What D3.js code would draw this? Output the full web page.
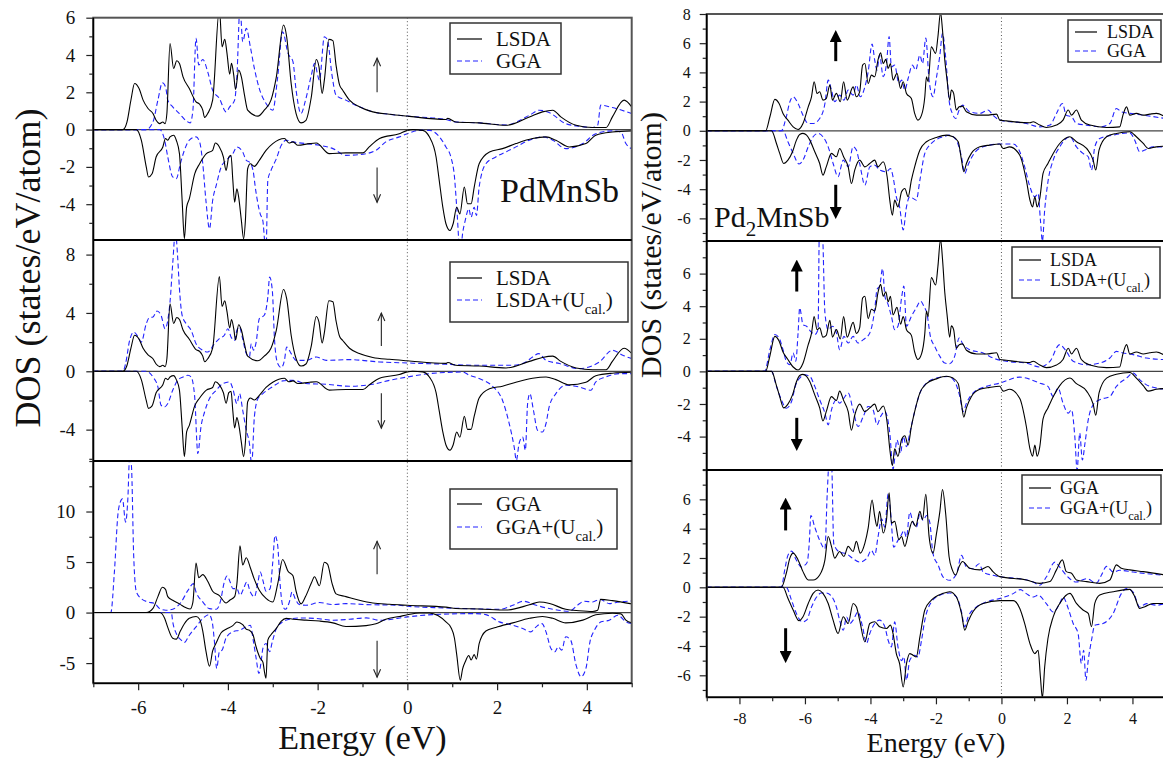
<!DOCTYPE html>
<html>
<head>
<meta charset="utf-8">
<script src="https://cdn.jsdelivr.net/npm/d3@7"></script>
<style>
  body { margin: 0; background: #fff; }
  text { font-family: "Liberation Serif", "Times New Roman", serif; fill: #111; }
</style>
</head>
<body>
<svg id="chart" width="1163" height="762"></svg>
<script>
// ---- PdMnSb (left column), [energy eV, DOS] ----
const pdmnsb_lsda_up = [[-7,0],[-6.34,0],[-6.25,0.4],[-6.16,1.6],[-6.08,2.47],[-5.98,2.2],[-5.89,1.58],[-5.78,1.13],[-5.67,0.86],[-5.6,0.5],[-5.52,0.32],[-5.45,0.41],[-5.4,0.32],[-5.36,0.86],[-5.29,4.62],[-5.21,3.28],[-5.14,3.69],[-5.08,3.55],[-5.0,2.83],[-4.86,2.2],[-4.71,1.49],[-4.63,1.36],[-4.56,1.04],[-4.52,0.65],[-4.45,0.86],[-4.34,1.58],[-4.19,6.5],[-4.13,4.44],[-4.07,4.84],[-4.02,4.09],[-3.96,2.97],[-3.92,3.55],[-3.87,2.92],[-3.83,2.15],[-3.76,3.19],[-3.7,2.83],[-3.63,1.85],[-3.56,1.04],[-3.33,0.72],[-3.19,1.04],[-3.04,1.58],[-2.92,2.83],[-2.76,5.61],[-2.69,4.98],[-2.59,2.47],[-2.48,0.86],[-2.37,0.36],[-2.26,0.5],[-2.14,1.76],[-2.03,3.76],[-1.97,3.37],[-1.9,1.94],[-1.85,2.65],[-1.75,4.84],[-1.66,4.77],[-1.59,3.46],[-1.51,2.38],[-1.44,2.11],[-1.29,1.58],[-1.07,1.22],[-0.77,0.95],[-0.4,0.82],[0,0.72],[0.86,0.54],[0.9,0.6],[1.08,0.41],[1.6,0.36],[2.2,0.23],[2.72,0.68],[3.01,0.95],[3.24,1.04],[3.42,0.68],[3.76,0.23],[4.13,0.11],[4.43,0.11],[4.57,0.68],[4.83,1.58],[5,1.22]];
const pdmnsb_lsda_dn = [[-7,0],[-6.04,0],[-5.93,-0.57],[-5.82,-2.0],[-5.77,-2.54],[-5.69,-2.37],[-5.6,-1.47],[-5.45,-0.93],[-5.39,-0.48],[-5.34,-0.57],[-5.29,-0.39],[-5.21,-0.3],[-5.15,-0.57],[-5.08,-1.29],[-5.02,-3.8],[-4.97,-5.85],[-4.92,-4.16],[-4.86,-3.71],[-4.74,-2.37],[-4.63,-1.83],[-4.48,-1.29],[-4.34,-1.11],[-4.28,-0.72],[-4.19,-0.93],[-4.1,-1.47],[-4.04,-2.19],[-3.98,-1.47],[-3.93,-1.38],[-3.89,-2.72],[-3.85,-3.89],[-3.8,-3.17],[-3.76,-3.62],[-3.7,-4.87],[-3.65,-5.85],[-3.61,-4.87],[-3.56,-2.1],[-3.5,-1.83],[-3.41,-1.97],[-3.3,-1.65],[-3.15,-1.11],[-3.0,-0.75],[-2.74,-0.48],[-2.64,-0.72],[-2.55,-0.66],[-2.44,-0.84],[-2.18,-0.75],[-2.03,-0.72],[-1.74,-1.29],[-1.37,-1.25],[-0.99,-1.25],[-0.85,-0.93],[-0.62,-0.48],[-0.18,-0.22],[0,-0.04],[0.12,0],[0.34,-0.04],[0.49,-0.39],[0.64,-1.47],[0.71,-2.72],[0.79,-4.16],[0.86,-5.05],[0.95,-5.41],[1.02,-5.05],[1.1,-4.16],[1.17,-4.52],[1.27,-3.08],[1.34,-3.98],[1.42,-3.98],[1.49,-3.08],[1.6,-1.83],[1.83,-1.2],[2.12,-1.02],[2.42,-0.75],[2.79,-0.48],[3.09,-0.39],[3.31,-0.57],[3.61,-0.93],[3.98,-0.75],[4.2,-0.3],[4.57,-0.13],[5,-0.07]];
const pdmnsb_gga_up = [[-7,0],[-5.82,0],[-5.67,0.41],[-5.56,1.58],[-5.46,2.51],[-5.39,2.29],[-5.34,1.58],[-5.23,1.22],[-5.08,0.86],[-4.93,0.47],[-4.84,0.36],[-4.78,1.04],[-4.71,4.9],[-4.65,3.46],[-4.56,3.76],[-4.45,3.1],[-4.34,2.11],[-4.19,1.67],[-4.04,0.95],[-3.96,1.22],[-3.85,1.58],[-3.8,2.83],[-3.73,6.6],[-3.67,4.71],[-3.59,5.43],[-3.5,4.44],[-3.41,3.28],[-3.3,2.2],[-3.15,1.4],[-3.0,1.04],[-2.89,2.83],[-2.78,5.25],[-2.66,4.09],[-2.55,3.64],[-2.48,2.11],[-2.37,0.86],[-2.27,1.58],[-2.14,2.92],[-2.07,3.55],[-1.96,2.65],[-1.85,4.98],[-1.78,4.8],[-1.68,2.92],[-1.59,1.85],[-1.37,1.58],[-1.07,1.22],[-0.77,0.95],[-0.4,0.82],[0,0.72],[0.86,0.54],[1.08,0.41],[1.6,0.36],[2.2,0.25],[2.72,0.77],[2.94,1.04],[3.17,0.9],[3.53,0.32],[3.83,0.18],[4.13,0.11],[4.24,0.23],[4.31,1.31],[4.57,1.18],[5,0.86]];
const pdmnsb_gga_dn = [[-7,0],[-5.52,0],[-5.41,-0.57],[-5.34,-1.47],[-5.23,-2.54],[-5.15,-2.63],[-5.06,-1.83],[-4.97,-1.11],[-4.86,-0.57],[-4.71,-0.39],[-4.63,-0.66],[-4.56,-1.83],[-4.49,-3.8],[-4.41,-5.32],[-4.34,-3.8],[-4.26,-2.99],[-4.15,-2.0],[-4.04,-1.65],[-3.89,-1.29],[-3.8,-0.93],[-3.67,-1.2],[-3.59,-1.65],[-3.52,-1.74],[-3.44,-2.19],[-3.38,-3.26],[-3.33,-3.98],[-3.28,-4.52],[-3.22,-4.9],[-3.18,-6.0],[-3.15,-6.5],[-3.11,-2.72],[-3.04,-2.19],[-2.92,-1.56],[-2.81,-0.84],[-2.7,-0.57],[-2.55,-0.66],[-2.26,-0.75],[-1.96,-0.84],[-1.66,-1.02],[-1.37,-1.38],[-0.92,-1.29],[-0.7,-1.11],[-0.48,-0.66],[-0.18,-0.39],[0,-0.22],[0.27,-0.04],[0.49,-0.04],[0.68,-0.3],[0.86,-0.93],[0.97,-1.47],[1.05,-2.54],[1.1,-4.16],[1.18,-6.7],[1.23,-5.59],[1.29,-4.87],[1.37,-4.25],[1.42,-4.7],[1.49,-4.16],[1.54,-4.61],[1.6,-3.08],[1.75,-1.83],[1.97,-1.47],[2.35,-1.02],[2.72,-0.57],[3.01,-0.39],[3.24,-0.57],[3.53,-1.02],[3.91,-0.75],[4.2,-0.22],[4.57,-0.07],[4.76,-0.13],[4.87,-0.75],[5,-1.02]];
const pdmnsb_lsdau_up = [[-7,0],[-6.34,0],[-6.28,0.53],[-6.19,2.12],[-6.1,2.69],[-6.0,2.35],[-5.93,2.0],[-5.82,3.26],[-5.75,3.68],[-5.67,3.72],[-5.58,4.13],[-5.49,3.84],[-5.4,2.92],[-5.34,3.49],[-5.29,4.75],[-5.23,7.37],[-5.17,9.6],[-5.12,7.83],[-5.08,5.66],[-5.02,3.84],[-4.93,3.26],[-4.82,2.81],[-4.71,1.89],[-4.56,1.44],[-4.45,1.32],[-4.3,1.89],[-4.19,2.24],[-4.08,2.47],[-4.0,2.92],[-3.93,2.35],[-3.85,2.12],[-3.8,2.81],[-3.74,3.04],[-3.68,2.35],[-3.59,1.21],[-3.52,0.98],[-3.48,1.89],[-3.43,1.44],[-3.37,2.0],[-3.3,3.61],[-3.19,3.84],[-3.11,5.09],[-3.07,6.46],[-3.01,5.55],[-2.96,2.12],[-2.89,0.53],[-2.81,0.25],[-2.74,0.75],[-2.69,1.67],[-2.59,1.21],[-2.48,0.75],[-2.26,0.75],[-2.03,0.98],[-1.81,0.75],[-1.29,0.8],[-0.62,0.64],[0,0.57],[0.86,0.48],[1.6,0.41],[2.35,0.41],[2.64,0.64],[2.79,0.98],[2.93,1.21],[3.09,0.75],[3.39,0.53],[3.83,0.18],[4.05,0.3],[4.28,0.64],[4.57,1.44],[4.8,1.1],[5,0.87]];
const pdmnsb_lsdau_dn = [[-7,0],[-5.82,0],[-5.67,-0.39],[-5.56,-1.07],[-5.49,-2.33],[-5.41,-2.44],[-5.34,-2.21],[-5.23,-1.3],[-5.12,-0.62],[-5.0,-0.39],[-4.89,-0.27],[-4.82,-0.39],[-4.74,-1.76],[-4.67,-5.64],[-4.6,-3.81],[-4.52,-2.79],[-4.41,-1.87],[-4.26,-1.3],[-4.11,-0.84],[-3.96,-0.73],[-3.89,-1.19],[-3.8,-2.21],[-3.74,-1.53],[-3.67,-2.67],[-3.59,-4.04],[-3.52,-4.95],[-3.47,-6.4],[-3.41,-3.13],[-3.33,-1.87],[-3.22,-1.53],[-3.07,-1.19],[-2.92,-0.89],[-2.78,-0.66],[-2.55,-0.62],[-2.26,-0.84],[-1.81,-0.89],[-1.29,-1.03],[-0.77,-0.89],[-0.4,-0.62],[0,-0.39],[0.49,-0.16],[1.23,-0.05],[1.38,-0.27],[1.6,-0.5],[1.9,-1.03],[2.12,-1.99],[2.27,-3.58],[2.38,-5.18],[2.43,-6.1],[2.49,-4.95],[2.57,-4.5],[2.63,-5.41],[2.68,-2.21],[2.73,-1.53],[2.81,-2.67],[2.9,-4.04],[3.01,-4.16],[3.09,-3.58],[3.16,-2.44],[3.31,-1.53],[3.53,-0.96],[3.83,-1.07],[4.09,-1.3],[4.2,-0.73],[4.42,-0.39],[4.72,-0.16],[5,-0.16]];
const pdmnsb_ggau_up = [[-7,0],[-6.61,0],[-6.53,4.01],[-6.45,9.77],[-6.4,10.92],[-6.35,11.25],[-6.28,8.95],[-6.23,11.25],[-6.19,15.5],[-6.15,14.5],[-6.1,5.66],[-6.04,2.04],[-5.93,1.38],[-5.78,1.05],[-5.63,0.89],[-5.52,0.39],[-5.38,0.23],[-5.23,0.33],[-5.04,1.05],[-4.89,2.2],[-4.77,2.86],[-4.71,2.04],[-4.56,1.05],[-4.41,0.39],[-4.26,0.33],[-4.17,1.05],[-4.08,3.03],[-4.02,3.62],[-3.95,3.03],[-3.89,2.37],[-3.8,2.37],[-3.73,1.71],[-3.65,2.37],[-3.58,3.03],[-3.5,2.04],[-3.41,1.55],[-3.33,3.03],[-3.28,4.01],[-3.22,3.19],[-3.15,2.11],[-3.06,2.37],[-3.0,5.0],[-2.95,7.63],[-2.89,6.64],[-2.84,3.03],[-2.78,0.72],[-2.72,0.33],[-2.63,1.05],[-2.57,2.04],[-2.5,1.38],[-2.41,0.79],[-2.26,0.72],[-1.96,0.99],[-1.66,0.79],[-1.37,0.89],[-0.92,0.79],[-0.18,0.72],[0,0.62],[0.86,0.46],[2.05,0.33],[2.35,0.72],[2.58,1.12],[2.87,0.72],[3.24,0.33],[3.61,0.13],[3.79,0.72],[3.94,1.12],[4.13,1.05],[4.29,1.32],[4.5,0.89],[4.72,1.05],[5,1.15]];
const pdmnsb_ggau_dn = [[-7,0],[-5.26,0],[-5.23,-0.92],[-5.15,-2.07],[-5.04,-2.73],[-4.97,-2.96],[-4.86,-2.24],[-4.71,-1.41],[-4.56,-0.59],[-4.42,-0.2],[-4.35,-0.92],[-4.3,-2.89],[-4.25,-5.53],[-4.19,-3.88],[-4.13,-3.72],[-4.04,-2.5],[-3.89,-1.91],[-3.74,-1.74],[-3.59,-1.41],[-3.5,-1.25],[-3.43,-2.89],[-3.37,-4.54],[-3.31,-6.02],[-3.26,-4.87],[-3.22,-3.55],[-3.15,-3.06],[-3.07,-3.88],[-3.01,-2.89],[-2.92,-1.58],[-2.78,-0.92],[-2.63,-0.66],[-2.41,-0.53],[-2.03,-0.59],[-1.66,-0.76],[-1.29,-0.66],[-0.92,-0.53],[-0.62,-0.76],[0,-0.43],[0.56,-0.2],[1.53,-0.1],[1.75,-0.2],[2.05,-0.92],[2.35,-1.25],[2.57,-1.58],[2.75,-1.91],[2.87,-1.41],[3.0,-1.09],[3.09,-1.91],[3.2,-3.55],[3.29,-3.88],[3.36,-3.39],[3.44,-3.72],[3.53,-2.4],[3.64,-2.73],[3.76,-5.2],[3.87,-6.35],[3.98,-5.53],[4.07,-2.89],[4.17,-1.74],[4.32,-0.92],[4.5,-0.76],[4.69,-0.26],[4.87,-0.92],[5,-1.09]];

// ---- Pd2MnSb (right column) ----
const pd2mnsb_lsda_up = [[-9,0],[-7.2,0],[-7.07,0.96],[-6.92,2.15],[-6.79,1.87],[-6.67,1.19],[-6.52,0.73],[-6.36,0.27],[-6.21,0.09],[-6.06,0.5],[-5.9,1.64],[-5.8,2.33],[-5.72,3.36],[-5.63,2.56],[-5.55,2.67],[-5.45,2.1],[-5.35,2.21],[-5.24,3.13],[-5.16,2.1],[-5.04,2.56],[-4.92,1.99],[-4.82,3.36],[-4.71,2.1],[-4.53,3.01],[-4.43,2.33],[-4.33,2.67],[-4.24,4.5],[-4.17,4.61],[-4.07,3.24],[-3.97,3.81],[-3.87,3.7],[-3.77,4.84],[-3.69,5.34],[-3.61,4.61],[-3.53,4.89],[-3.46,4.27],[-3.39,4.61],[-3.31,3.47],[-3.19,3.93],[-3.08,2.9],[-3.0,3.36],[-2.9,2.56],[-2.75,2.21],[-2.65,1.19],[-2.55,0.73],[-2.44,1.07],[-2.34,2.33],[-2.29,3.7],[-2.24,3.36],[-2.14,5.75],[-2.01,5.3],[-1.94,6.44],[-1.86,8.1],[-1.8,6.9],[-1.73,4.84],[-1.66,3.47],[-1.58,2.1],[-1.53,2.79],[-1.46,2.56],[-1.38,1.42],[-1.29,1.64],[-1.19,1.69],[-1.07,1.3],[-0.76,1.07],[-0.46,1.07],[-0.15,1.14],[-0.05,0.73],[0.15,0.68],[0.87,0.55],[0.97,0.62],[1.17,0.39],[1.37,0.23],[1.68,0.39],[1.88,0.73],[2.04,1.42],[2.14,1.07],[2.29,1.42],[2.44,0.73],[2.7,0.39],[3.21,0.23],[3.61,0.27],[3.71,1.07],[3.82,1.64],[3.92,1.07],[4.12,1.19],[4.33,1.07],[4.53,1.14],[4.73,1.19],[5,0.96]];
const pd2mnsb_lsda_dn = [[-9,0],[-7.02,0],[-6.87,-0.87],[-6.77,-1.55],[-6.65,-2.24],[-6.52,-2.01],[-6.38,-1.44],[-6.26,-0.64],[-6.16,-0.25],[-6.06,-0.18],[-5.95,-0.3],[-5.85,-0.64],[-5.7,-1.44],[-5.55,-2.24],[-5.45,-3.04],[-5.35,-2.47],[-5.19,-1.55],[-5.04,-1.78],[-4.94,-1.21],[-4.82,-1.78],[-4.68,-2.47],[-4.58,-3.61],[-4.48,-2.69],[-4.33,-2.01],[-4.17,-2.47],[-4.02,-2.24],[-3.87,-2.01],[-3.77,-2.47],[-3.61,-2.12],[-3.49,-3.15],[-3.41,-4.75],[-3.33,-5.78],[-3.26,-4.75],[-3.16,-5.21],[-3.05,-4.18],[-2.95,-3.95],[-2.85,-4.52],[-2.75,-3.38],[-2.65,-2.47],[-2.49,-1.32],[-2.29,-0.75],[-1.99,-0.46],[-1.68,-0.3],[-1.48,-0.41],[-1.32,-0.75],[-1.22,-2.01],[-1.15,-2.81],[-1.07,-2.24],[-0.92,-1.55],[-0.66,-1.1],[-0.36,-0.98],[-0.05,-0.91],[0.05,-1.21],[0.25,-1.1],[0.56,-1.67],[0.76,-3.38],[0.87,-4.75],[0.95,-5.21],[1.02,-4.52],[1.09,-5.21],[1.17,-4.63],[1.27,-2.92],[1.42,-2.24],[1.58,-1.55],[1.78,-0.87],[2.09,-0.41],[2.29,-0.75],[2.6,-1.21],[2.8,-2.01],[2.88,-2.69],[2.98,-1.32],[3.21,-0.41],[3.51,-0.18],[3.92,-0.07],[4.12,-0.41],[4.33,-0.87],[4.48,-1.21],[4.73,-1.1],[5,-1.05]];
const pd2mnsb_gga_up = [[-9,0],[-6.72,0],[-6.57,0.96],[-6.46,1.99],[-6.36,2.33],[-6.21,1.87],[-6.06,1.07],[-5.9,0.5],[-5.75,0.5],[-5.55,0.84],[-5.39,1.87],[-5.29,3.47],[-5.19,2.79],[-5.09,1.99],[-4.94,2.44],[-4.81,2.1],[-4.68,2.79],[-4.53,2.44],[-4.43,3.13],[-4.31,2.33],[-4.17,3.01],[-4.07,4.04],[-3.95,5.95],[-3.87,4.84],[-3.8,4.16],[-3.72,5.18],[-3.61,3.7],[-3.51,4.61],[-3.43,6.45],[-3.36,4.38],[-3.26,4.5],[-3.13,3.24],[-3.05,3.47],[-2.95,2.79],[-2.85,3.58],[-2.72,4.5],[-2.62,4.16],[-2.49,5.18],[-2.41,4.61],[-2.31,6.35],[-2.21,3.47],[-2.09,2.33],[-1.99,3.58],[-1.88,5.18],[-1.8,6.67],[-1.7,4.95],[-1.6,2.1],[-1.5,1.19],[-1.4,0.84],[-1.29,1.42],[-1.19,1.76],[-0.97,1.3],[-0.66,1.19],[-0.41,1.42],[-0.26,1.07],[-0.05,0.73],[0.76,0.5],[1.17,0.27],[1.48,0.39],[1.68,1.19],[1.86,1.87],[1.98,1.07],[2.14,0.96],[2.29,0.5],[2.6,0.39],[3.0,0.27],[3.31,0.5],[3.51,1.53],[3.66,1.3],[3.92,1.19],[4.33,1.07],[5,0.84]];
const pd2mnsb_gga_dn = [[-9,0],[-6.67,0],[-6.52,-0.75],[-6.36,-1.55],[-6.18,-2.28],[-6.06,-2.01],[-5.9,-1.1],[-5.75,-0.41],[-5.6,-0.18],[-5.45,-0.41],[-5.29,-1.1],[-5.14,-2.24],[-4.99,-3.15],[-4.83,-2.01],[-4.68,-2.47],[-4.53,-1.1],[-4.43,-1.32],[-4.33,-2.24],[-4.17,-3.72],[-4.02,-2.47],[-3.87,-2.35],[-3.72,-2.69],[-3.51,-2.81],[-3.39,-2.58],[-3.31,-3.15],[-3.21,-4.52],[-3.11,-5.21],[-3.0,-6.8],[-2.9,-5.21],[-2.8,-4.52],[-2.7,-4.63],[-2.6,-4.75],[-2.49,-3.38],[-2.34,-1.55],[-2.14,-0.87],[-1.78,-0.41],[-1.58,-0.3],[-1.38,-0.64],[-1.22,-1.78],[-1.12,-2.92],[-1.02,-2.35],[-0.87,-1.67],[-0.56,-1.1],[-0.05,-0.91],[0.36,-0.91],[0.56,-1.44],[0.71,-2.47],[0.87,-3.84],[1.02,-4.52],[1.12,-4.29],[1.19,-6.12],[1.25,-7.55],[1.32,-5.43],[1.42,-3.49],[1.58,-2.01],[1.78,-1.1],[2.09,-0.41],[2.29,-1.1],[2.49,-1.55],[2.65,-1.78],[2.75,-2.69],[2.85,-1.1],[3.0,-0.53],[3.41,-0.3],[3.92,-0.14],[4.07,-0.64],[4.22,-1.44],[4.38,-1.32],[4.63,-1.1],[5,-1.1]];
const pd2mnsb_lsdau_up = [[-9,0],[-7.23,0],[-7.07,1.33],[-6.92,2.26],[-6.79,2.05],[-6.67,1.33],[-6.57,0.62],[-6.46,0.41],[-6.36,1.13],[-6.28,0.62],[-6.21,2.36],[-6.16,3.9],[-6.06,2.87],[-5.95,2.77],[-5.83,2.46],[-5.7,2.26],[-5.6,2.56],[-5.56,8.6],[-5.47,8.6],[-5.39,3.59],[-5.29,2.56],[-5.16,2.77],[-5.04,2.36],[-4.94,1.33],[-4.81,2.15],[-4.68,1.74],[-4.53,2.15],[-4.38,1.74],[-4.22,1.95],[-4.02,2.36],[-3.87,3.79],[-3.8,5.03],[-3.72,5.23],[-3.63,6.3],[-3.56,4.62],[-3.46,4.1],[-3.36,3.38],[-3.26,2.56],[-3.16,2.77],[-3.05,4.51],[-2.98,5.23],[-2.9,2.77],[-2.75,3.38],[-2.6,3.9],[-2.47,4.31],[-2.37,4.0],[-2.27,3.49],[-2.17,2.15],[-2.04,1.54],[-1.88,0.92],[-1.73,0.51],[-1.58,0.47],[-1.43,0.92],[-1.29,2.05],[-1.17,1.64],[-0.97,1.33],[-0.56,1.13],[-0.26,0.82],[0.15,0.62],[0.76,0.51],[1.17,0.27],[1.48,0.62],[1.78,1.64],[1.98,1.23],[2.19,0.62],[2.6,0.41],[3.0,0.51],[3.31,0.82],[3.51,1.23],[3.71,1.13],[4.02,1.03],[4.43,0.82],[5,0.72]];
const pd2mnsb_lsdau_dn = [[-9,0],[-7.02,0],[-6.87,-0.92],[-6.72,-1.74],[-6.57,-2.26],[-6.41,-1.85],[-6.28,-0.82],[-6.16,-0.41],[-6.01,-0.21],[-5.85,-0.31],[-5.7,-0.92],[-5.55,-1.74],[-5.39,-2.56],[-5.29,-3.28],[-5.19,-2.36],[-5.04,-1.74],[-4.94,-1.95],[-4.81,-1.64],[-4.68,-1.33],[-4.53,-2.36],[-4.38,-3.38],[-4.22,-2.77],[-4.07,-2.15],[-3.92,-2.36],[-3.8,-3.28],[-3.69,-2.77],[-3.56,-2.46],[-3.41,-3.79],[-3.31,-6.0],[-3.19,-4.21],[-3.08,-5.03],[-3.0,-4.0],[-2.9,-4.62],[-2.8,-3.79],[-2.65,-2.46],[-2.49,-1.33],[-2.29,-0.72],[-1.99,-0.41],[-1.63,-0.31],[-1.43,-0.62],[-1.27,-1.54],[-1.17,-2.46],[-1.07,-1.95],[-0.87,-1.33],[-0.46,-0.92],[-0.05,-0.72],[0.56,-0.35],[1.17,-0.72],[1.42,-0.92],[1.58,-1.54],[1.73,-1.03],[1.88,-1.95],[2.04,-2.56],[2.14,-2.36],[2.24,-4.0],[2.31,-6.05],[2.39,-3.79],[2.47,-5.44],[2.55,-4.41],[2.65,-2.97],[2.8,-2.05],[3.0,-1.74],[3.31,-1.54],[3.51,-0.92],[3.82,-0.41],[4.02,-0.1],[4.22,-0.51],[4.53,-0.92],[5,-1.09]];
const pd2mnsb_ggau_up = [[-9,0],[-6.72,0],[-6.62,1.16],[-6.52,2.18],[-6.41,2.47],[-6.26,1.84],[-6.11,1.38],[-6.01,1.5],[-5.93,1.72],[-5.87,2.97],[-5.82,4.9],[-5.7,4.1],[-5.55,3.2],[-5.39,2.63],[-5.32,6.37],[-5.26,8.6],[-5.19,8.6],[-5.12,2.97],[-4.94,2.4],[-4.73,2.29],[-4.53,1.95],[-4.33,1.72],[-4.12,1.95],[-3.97,2.52],[-3.87,2.18],[-3.77,3.42],[-3.66,4.67],[-3.56,4.1],[-3.46,6.37],[-3.39,5.24],[-3.29,2.74],[-3.16,3.2],[-3.05,3.6],[-2.98,3.88],[-2.9,3.42],[-2.8,5.12],[-2.7,4.44],[-2.6,4.1],[-2.49,5.01],[-2.39,4.56],[-2.29,4.9],[-2.19,4.44],[-2.09,2.29],[-1.93,1.5],[-1.78,0.7],[-1.58,0.48],[-1.37,0.93],[-1.22,2.18],[-1.07,1.38],[-0.87,1.27],[-0.68,1.61],[-0.56,1.04],[-0.26,0.82],[0,0.7],[0.56,0.59],[0.97,0.36],[1.17,0.14],[1.37,0.7],[1.63,1.72],[1.78,1.38],[1.98,0.82],[2.29,0.36],[2.6,0.59],[2.9,0.29],[3.05,0.82],[3.21,1.43],[3.41,1.04],[3.61,1.16],[4.02,1.04],[4.43,0.93],[5,0.82]];
const pd2mnsb_ggau_dn = [[-9,0],[-6.57,0],[-6.41,-0.88],[-6.26,-1.79],[-6.08,-2.36],[-5.95,-2.24],[-5.8,-1.34],[-5.65,-0.68],[-5.5,-0.39],[-5.35,-0.39],[-5.19,-0.61],[-5.04,-1.34],[-4.94,-2.24],[-4.83,-2.93],[-4.73,-2.02],[-4.63,-2.47],[-4.53,-2.24],[-4.38,-1.68],[-4.24,-2.7],[-4.12,-3.83],[-4.02,-3.15],[-3.87,-2.47],[-3.72,-2.24],[-3.56,-2.7],[-3.46,-3.61],[-3.36,-4.06],[-3.26,-2.36],[-3.16,-4.06],[-3.05,-5.0],[-2.98,-4.74],[-2.9,-6.33],[-2.8,-4.97],[-2.65,-4.63],[-2.55,-4.74],[-2.44,-3.61],[-2.34,-2.24],[-2.14,-1.0],[-1.88,-0.54],[-1.58,-0.39],[-1.37,-0.66],[-1.22,-1.68],[-1.12,-2.7],[-1.02,-2.02],[-0.76,-1.34],[-0.46,-1.0],[0,-0.73],[0.36,-0.43],[0.58,-0.16],[0.76,-0.43],[0.97,-0.66],[1.12,-0.54],[1.37,-1.11],[1.58,-1.68],[1.78,-1.11],[1.88,-0.66],[2.04,-1.45],[2.19,-2.47],[2.34,-3.15],[2.44,-5.19],[2.51,-4.29],[2.58,-6.33],[2.65,-4.97],[2.75,-3.61],[2.85,-2.59],[3.1,-2.47],[3.41,-1.79],[3.66,-0.43],[3.82,-0.09],[4.02,-0.32],[4.22,-1.34],[4.43,-1.11],[4.73,-1.22],[5,-1.11]];

// tick labels
const pdmnsb_xticks = [-6, -4, -2, 0, 2, 4];
const pd2mnsb_xticks = [-8, -6, -4, -2, 0, 2, 4];

const svg = d3.select('#chart');
const fmt = d => String(d);   // plain hyphen minus like the original

const cols = {
  L: { x0: 93.3, x1: 631.7, dom: [-7, 5], xticks: pdmnsb_xticks, tickFont: 19, legFont: 21, legSample: 25,
       title: { x: 40, y: 268, size: 36 }, xlab: { size: 34, y: 749 }, tickPad: 10 },
  R: { x0: 706.7, x1: 1165.2, dom: [-9, 5], xticks: pd2mnsb_xticks, tickFont: 16, legFont: 18, legSample: 22,
       title: { x: 661, y: 245, size: 30 }, xlab: { size: 28, y: 752 }, tickPad: 8 }
};
for (const k in cols) cols[k].x = d3.scaleLinear().domain(cols[k].dom).range([cols[k].x0, cols[k].x1]);

const uLabel = base => ({ main: base + '+(U', sub: 'cal.', tail: ')' });

const panels = [
  { col: 'L', top: 17.7, bot: 240, ydom: [-5.92, 6], ymajor: [6, 4, 2, 0, -2, -4], ystep: 1, ypad: 11,
    black: [pdmnsb_lsda_up, pdmnsb_lsda_dn], blue: [pdmnsb_gga_up, pdmnsb_gga_dn],
    names: ['LSDA', 'GGA'], leg: { x: 450, y: 23, w: 111, h: 51, r1: 16, r2: 38, tx: 46 },
    arrow: { e: -0.675, up: [2.0, 3.83], dn: [-2.03, -3.9], thick: false } },
  { col: 'L', top: 240, bot: 461, ydom: [-6.15, 9], ymajor: [8, 4, 0, -4], ystep: 2, ypad: 11,
    black: [pdmnsb_lsda_up, pdmnsb_lsda_dn], blue: [pdmnsb_lsdau_up, pdmnsb_lsdau_dn],
    names: ['LSDA', uLabel('LSDA')], leg: { x: 450, y: 262, w: 178, h: 60, r1: 16, r2: 38, tx: 46 },
    arrow: { e: -0.58, up: [1.73, 3.99], dn: [-1.5, -3.9], thick: false } },
  { col: 'L', top: 461, bot: 683.3, ydom: [-7, 15], ymajor: [10, 5, 0, -5], ystep: 2.5, ypad: 11,
    black: [pdmnsb_gga_up, pdmnsb_gga_dn], blue: [pdmnsb_ggau_up, pdmnsb_ggau_dn],
    names: ['GGA', uLabel('GGA')], leg: { x: 450, y: 489, w: 167, h: 60, r1: 15, r2: 38, tx: 46 },
    arrow: { e: -0.675, up: [3.8, 7.05], dn: [-2.8, -6.4], thick: false } },
  { col: 'R', top: 14, bot: 241, ydom: [-7.55, 8], ymajor: [8, 6, 4, 2, 0, -2, -4, -6], ystep: 1, ypad: 9,
    black: [pd2mnsb_lsda_up, pd2mnsb_lsda_dn], blue: [pd2mnsb_gga_up, pd2mnsb_gga_dn],
    names: ['LSDA', 'GGA'], leg: { x: 1068, y: 20, w: 93, h: 42, r1: 12, r2: 31, tx: 39 },
    arrow: { e: -5.06, up: [4.77, 6.83], dn: [-3.7, -5.98], thick: true } },
  { col: 'R', top: 241, bot: 470, ydom: [-6.05, 8], ymajor: [6, 4, 2, 0, -2, -4], ystep: 1, ypad: 9,
    black: [pd2mnsb_lsda_up, pd2mnsb_lsda_dn], blue: [pd2mnsb_lsdau_up, pd2mnsb_lsdau_dn],
    names: ['LSDA', uLabel('LSDA')], leg: { x: 1012, y: 247, w: 148, h: 51, r1: 13, r2: 33, tx: 38 },
    arrow: { e: -6.25, up: [4.9, 6.8], dn: [-2.85, -4.82], thick: true } },
  { col: 'R', top: 470, bot: 697.3, ydom: [-7.5, 8], ymajor: [6, 4, 2, 0, -2, -4, -6], ystep: 1, ypad: 9,
    black: [pd2mnsb_gga_up, pd2mnsb_gga_dn], blue: [pd2mnsb_ggau_up, pd2mnsb_ggau_dn],
    names: ['GGA', uLabel('GGA')], leg: { x: 1022, y: 475, w: 139, h: 49, r1: 13, r2: 33, tx: 38 },
    arrow: { e: -6.59, up: [3.88, 6.05], dn: [-2.79, -5.1], thick: true } }
];

const defs = svg.append('defs');
defs.append('marker').attr('id', 'headThick').attr('viewBox', '0 0 10 10')
  .attr('refX', 5).attr('refY', 5).attr('markerWidth', 4).attr('markerHeight', 4).attr('orient', 'auto')
  .append('path').attr('d', 'M0,0 L10,5 L0,10 z').attr('fill', '#000');

function styleAxis(a, size) {
  a.select('.domain').remove();
  a.selectAll('line').attr('stroke', '#222').attr('stroke-width', 1.2);
  a.selectAll('text').attr('font-size', size).style('font-family', '"Liberation Serif", serif').attr('fill', '#111');
}

panels.forEach((p, i) => {
  const c = cols[p.col];
  const x = c.x;
  const y = d3.scaleLinear().domain(p.ydom).range([p.bot, p.top]);

  defs.append('clipPath').attr('id', 'clip' + i)
    .append('rect').attr('x', c.x0).attr('y', p.top).attr('width', c.x1 - c.x0).attr('height', p.bot - p.top);

  const g = svg.append('g').attr('clip-path', 'url(#clip' + i + ')');

  // zero line
  g.append('line').attr('x1', c.x0).attr('x2', c.x1).attr('y1', y(0)).attr('y2', y(0))
    .attr('stroke', '#444').attr('stroke-width', 1.3);

  const line = d3.line().x(d => x(d[0])).y(d => y(d[1])).curve(d3.curveMonotoneX);

  p.blue.forEach(s => g.append('path').attr('d', line(s)).attr('fill', 'none')
    .attr('stroke', '#2323ff').attr('stroke-width', 1.1).attr('stroke-dasharray', '5,3'));
  p.black.forEach(s => g.append('path').attr('d', line(s)).attr('fill', 'none')
    .attr('stroke', '#000').attr('stroke-width', 1.1));

  // y axis: minor + major ticks
  const minor = d3.range(Math.ceil(p.ydom[0] / p.ystep) * p.ystep, p.ydom[1] + 1e-9, p.ystep)
    .filter(v => !p.ymajor.includes(v));
  const ya = svg.append('g').attr('transform', 'translate(' + c.x0 + ',0)')
    .call(d3.axisLeft(y).tickValues(minor).tickSize(4).tickFormat(''));
  styleAxis(ya, c.tickFont);
  const yb = svg.append('g').attr('transform', 'translate(' + c.x0 + ',0)')
    .call(d3.axisLeft(y).tickValues(p.ymajor).tickSize(7).tickPadding(p.ypad).tickFormat(fmt));
  styleAxis(yb, c.tickFont);

  // legend
  const L = p.leg;
  const lg = svg.append('g');
  lg.append('rect').attr('x', L.x).attr('y', L.y).attr('width', L.w).attr('height', L.h)
    .attr('fill', '#fff').attr('stroke', '#333').attr('stroke-width', 1.5);
  [[L.r1, false], [L.r2, true]].forEach(([ry, dashed], k) => {
    const yy = L.y + ry;
    lg.append('line').attr('x1', L.x + 7).attr('x2', L.x + 7 + c.legSample).attr('y1', yy).attr('y2', yy)
      .attr('stroke', dashed ? '#2323ff' : '#000').attr('stroke-width', 1.2)
      .attr('stroke-dasharray', dashed ? '5,3' : null);
    const nm = p.names[k];
    const t = lg.append('text').attr('x', L.x + L.tx).attr('y', yy + c.legFont * 0.33).attr('font-size', c.legFont);
    if (typeof nm === 'string') t.text(nm);
    else {
      t.append('tspan').text(nm.main);
      t.append('tspan').text(nm.sub).attr('font-size', c.legFont * 0.7).attr('dy', c.legFont * 0.32);
      t.append('tspan').text(nm.tail).attr('dy', -c.legFont * 0.32);
    }
  });

  // spin arrows
  const A = p.arrow;
  [A.up, A.dn].forEach(r => {
    const ax = x(A.e), ya0 = y(r[0]), ya1 = y(r[1]);
    if (A.thick) {
      svg.append('line').attr('x1', ax).attr('x2', ax).attr('y1', ya0).attr('y2', ya1 + (ya1 < ya0 ? 5 : -5))
        .attr('stroke', '#000').attr('stroke-width', 3).attr('marker-end', 'url(#headThick)');
    } else {
      const dir = ya1 < ya0 ? 1 : -1;
      svg.append('line').attr('x1', ax).attr('x2', ax).attr('y1', ya0).attr('y2', ya1)
        .attr('stroke', '#222').attr('stroke-width', 1.1);
      svg.append('path').attr('d', 'M' + (ax - 3.5) + ',' + (ya1 + dir * 8) + ' L' + ax + ',' + ya1 + ' L' + (ax + 3.5) + ',' + (ya1 + dir * 8))
        .attr('fill', 'none').attr('stroke', '#222').attr('stroke-width', 1.1);
    }
  });
});

// frames, separators, Fermi level, x axes, titles
['L', 'R'].forEach(k => {
  const c = cols[k];
  const ps = panels.filter(p => p.col === k);
  const top = ps[0].top, bot = ps[ps.length - 1].bot;

  svg.append('line').attr('x1', c.x(0)).attr('x2', c.x(0)).attr('y1', top).attr('y2', bot)
    .attr('stroke', '#555').attr('stroke-width', 1).attr('stroke-dasharray', '1,2.5');

  svg.append('rect').attr('x', c.x0).attr('y', top).attr('width', c.x1 - c.x0).attr('height', bot - top)
    .attr('fill', 'none').attr('stroke', '#555').attr('stroke-width', 2);
  svg.append('line').attr('x1', c.x0).attr('x2', c.x0).attr('y1', top).attr('y2', bot)
    .attr('stroke', '#000').attr('stroke-width', 1.6);
  svg.append('line').attr('x1', c.x0).attr('x2', c.x1).attr('y1', bot).attr('y2', bot)
    .attr('stroke', '#000').attr('stroke-width', 1.6);
  ps.slice(1).forEach(p => svg.append('line').attr('x1', c.x0).attr('x2', c.x1).attr('y1', p.top).attr('y2', p.top)
    .attr('stroke', '#000').attr('stroke-width', 2.2));

  const xminor = d3.range(c.dom[0], c.dom[1] + 1e-9, 1).filter(v => !c.xticks.includes(v));
  const xa = svg.append('g').attr('transform', 'translate(0,' + bot + ')')
    .call(d3.axisBottom(c.x).tickValues(xminor).tickSize(4).tickFormat(''));
  styleAxis(xa, c.tickFont);
  const xb = svg.append('g').attr('transform', 'translate(0,' + bot + ')')
    .call(d3.axisBottom(c.x).tickValues(c.xticks).tickSize(7).tickPadding(c.tickPad).tickFormat(fmt));
  styleAxis(xb, c.tickFont);

  svg.append('text').attr('x', (c.x0 + c.x1) / 2).attr('y', c.xlab.y).attr('text-anchor', 'middle')
    .attr('font-size', c.xlab.size).text('Energy (eV)');
  svg.append('text').attr('transform', 'translate(' + c.title.x + ',' + c.title.y + ') rotate(-90)')
    .attr('text-anchor', 'middle').attr('font-size', c.title.size).text('DOS (states/eV/atom)');
});

// compound names
svg.append('text').attr('x', 500).attr('y', 202).attr('font-size', 34).text('PdMnSb');
const t2 = svg.append('text').attr('x', 714).attr('y', 227).attr('font-size', 30);
t2.append('tspan').text('Pd');
t2.append('tspan').text('2').attr('font-size', 21).attr('dy', 9);
t2.append('tspan').text('MnSb').attr('dy', -9);
</script>
</body>
</html>
